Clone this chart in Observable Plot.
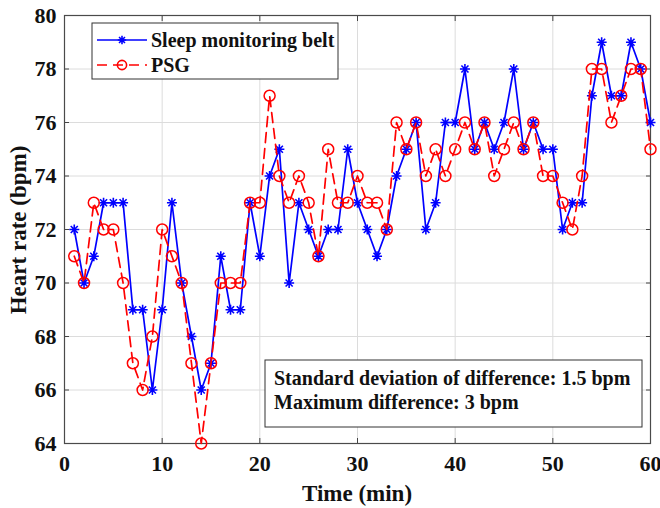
<!DOCTYPE html>
<html><head><meta charset="utf-8">
<script src="https://cdn.jsdelivr.net/npm/d3@7"></script>
<script src="https://cdn.jsdelivr.net/npm/@observablehq/plot@0.6"></script>
<style>
body{margin:0;background:#fff;}
#chart{width:660px;height:508px;}
</style></head><body><div id="chart"></div>
<script>
const minutes = [1,2,3,4,5,6,7,8,9,10,11,12,13,14,15,16,17,18,19,20,21,22,23,24,25,26,27,28,29,30,
  31,32,33,34,35,36,37,38,39,40,41,42,43,44,45,46,47,48,49,50,51,52,53,54,55,56,57,58,59,60];
const beltHR = [72,70,71,73,73,73,69,69,66,69,73,70,68,66,67,71,69,69,73,71,74,75,70,73,72,71,72,72,75,73,
  72,71,72,74,75,76,72,73,76,76,78,75,76,75,76,78,75,76,75,75,72,73,73,77,79,77,77,79,78,76];
const psgHR = [71,70,73,72,72,70,67,66,68,72,71,70,67,64,67,70,70,70,73,73,77,74,73,74,73,71,75,73,73,74,
  73,73,72,76,75,76,74,75,74,75,76,75,76,74,75,76,75,76,74,74,73,72,74,78,78,76,77,78,78,75];
const xTicks = [0,10,20,30,40,50,60];
const yTicks = [64,66,68,70,72,74,76,78,80];
const seriesNames = ["Sleep monitoring belt", "PSG"];
const annotationLines = ["Standard deviation of difference: 1.5 bpm", "Maximum difference: 3 bpm"];
const xLabel = "Time (min)";
const yLabel = "Heart rate (bpm)";

const belt = minutes.map((m, i) => ({t: m, hr: beltHR[i]}));
const psg = minutes.map((m, i) => ({t: m, hr: psgHR[i]}));

const BLUE = "#0000ff", RED = "#ff0000";
const font = "'Liberation Serif', 'Times New Roman', serif";

// MATLAB-style 8-armed asterisk marker
const star8 = {
  draw(context, size) {
    const r = Math.sqrt(size / Math.PI), d = r * Math.SQRT1_2;
    context.moveTo(-r, 0); context.lineTo(r, 0);
    context.moveTo(0, -r); context.lineTo(0, r);
    context.moveTo(-d, -d); context.lineTo(d, d);
    context.moveTo(-d, d); context.lineTo(d, -d);
  }
};

const chart = Plot.plot({
  width: 660, height: 508,
  marginLeft: 64, marginRight: 10, marginTop: 15, marginBottom: 65,
  style: {fontFamily: font, fontWeight: "bold", fontSize: "22px", color: "#111", background: "#fff"},
  x: {domain: [0, 60]},
  y: {domain: [64, 80]},
  marks: [
    Plot.gridX(xTicks, {stroke: "#dcdcdc", strokeOpacity: 1}),
    Plot.gridY(yTicks, {stroke: "#dcdcdc", strokeOpacity: 1}),
    Plot.axisX(xTicks, {anchor: "bottom", tickSize: 0, tickPadding: 12, label: null, fill: "#111"}),
    Plot.axisY(yTicks, {anchor: "left", tickSize: 0, tickPadding: 8, label: null, fill: "#111"}),
    Plot.axisX(xTicks, {anchor: "bottom", tickSize: -5, tickFormat: () => "", label: null, stroke: "#444"}),
    Plot.axisX(xTicks, {anchor: "top", tickSize: -5, tickFormat: () => "", label: null, stroke: "#444"}),
    Plot.axisY(yTicks, {anchor: "left", tickSize: -5, tickFormat: () => "", label: null, stroke: "#444"}),
    Plot.axisY(yTicks, {anchor: "right", tickSize: -5, tickFormat: () => "", label: null, stroke: "#444"}),
    Plot.frame({stroke: "#4a4a4a", strokeWidth: 1.2}),
    Plot.line(belt, {x: "t", y: "hr", stroke: BLUE, strokeWidth: 1.7}),
    Plot.dot(belt, {x: "t", y: "hr", symbol: star8, r: 5, stroke: BLUE, fill: "none", strokeWidth: 1.6}),
    Plot.line(psg, {x: "t", y: "hr", stroke: RED, strokeWidth: 1.7, strokeDasharray: "10,6"}),
    Plot.dot(psg, {x: "t", y: "hr", symbol: "circle", r: 5.5, stroke: RED, fill: "none", strokeWidth: 1.5})
  ]
});

const svg = d3.select(chart);
// axis titles
svg.append("text").attr("x", 357).attr("y", 501).attr("text-anchor", "middle")
  .style("font-size", "23px").style("font-weight", "bold").attr("fill", "#111").text(xLabel);
svg.append("text").attr("transform", "translate(26,230) rotate(-90)").attr("text-anchor", "middle")
  .style("font-size", "23px").style("font-weight", "bold").attr("fill", "#111").text(yLabel);

// legend
const lg = svg.append("g");
lg.append("rect").attr("x", 92).attr("y", 23).attr("width", 246).attr("height", 56)
  .attr("fill", "#fff").attr("stroke", "#333").attr("stroke-width", 1);
const rows = [{y: 40, color: BLUE, dash: null, sym: star8, r: 4.2, name: seriesNames[0]},
              {y: 65, color: RED, dash: "10,6", sym: d3.symbolCircle, r: 4.6, name: seriesNames[1]}];
rows.forEach(r => {
  lg.append("line").attr("x1", 97).attr("x2", 147).attr("y1", r.y).attr("y2", r.y)
    .attr("stroke", r.color).attr("stroke-width", 1.7).attr("stroke-dasharray", r.dash)
    .attr("stroke-dashoffset", r.dash ? 0 : null);
  lg.append("path").attr("d", d3.symbol(r.sym, Math.PI * r.r * r.r)()).attr("transform", `translate(122,${r.y})`)
    .attr("stroke", r.color).attr("stroke-width", 1.6).attr("fill", "none");
  lg.append("text").attr("x", 151).attr("y", r.y + 7).attr("text-anchor", "start")
    .style("font-size", "20px").style("font-weight", "bold").attr("fill", "#111").text(r.name);
});

// annotation box
const ann = svg.append("g");
ann.append("rect").attr("x", 265).attr("y", 360).attr("width", 377).attr("height", 67)
  .attr("fill", "#fff").attr("stroke", "#333").attr("stroke-width", 1);
annotationLines.forEach((t, i) => {
  ann.append("text").attr("x", 274).attr("y", 385 + i * 24).attr("text-anchor", "start")
    .style("font-size", "20px").style("font-weight", "bold").attr("fill", "#111").text(t);
});

document.getElementById("chart").appendChild(chart);
</script></body></html>
